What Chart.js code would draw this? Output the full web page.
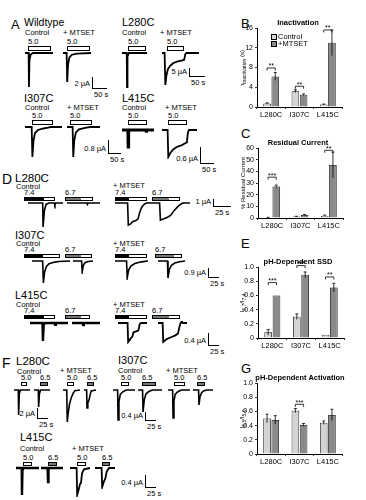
<!DOCTYPE html>
<html>
<head>
<meta charset="utf-8">
<script src="https://cdn.jsdelivr.net/npm/chart.js@4.4.1/dist/chart.umd.min.js"></script>
<style>
  html, body { margin: 0; padding: 0; background: #fff; }
  #fig { position: relative; width: 366px; height: 500px; overflow: hidden; background: #fff; }
  #fig canvas { position: absolute; }
  .t { position: absolute; line-height: 1; white-space: nowrap; color: #000;
       font-family: 'Liberation Sans', Arial, sans-serif; }
  .stim { position: absolute; box-sizing: border-box; border: 1px solid #000; background: #fff; }
  .stim div { position: absolute; left: 0; top: 0; bottom: 0; }
  .sb { position: absolute; border-left: 1.5px solid #000; border-bottom: 1.5px solid #000; }
  .key { position: absolute; width: 4px; height: 4px; border: 1px solid #000; }
</style>
</head>
<body>
<div id="fig"></div>
<script>
// ---- bar chart data (B, C, E, G) ----
const categories = ['L280C', 'I307C', 'L415C'];

const inactTicks = [0, 4, 8, 12, 16];
const inactControl = [0.7, 3.2, 0.5];
const inactMtset = [6.2, 2.5, 13.0];
const inactControlErr = [0.15, 0.3, 0.1];
const inactMtsetErr = [0.8, 0.15, 2.6];
const inactSig = [[0, 7.9, '**'], [1, 4.2, '**'], [2, 15.6, '**']];

const residTicks = [0, 10, 20, 30, 40, 50, 60];
const residControl = [0.4, 1.2, 2.0];
const residMtset = [27.0, 2.6, 45.5];
const residControlErr = [0.2, 0.3, 0.5];
const residMtsetErr = [1.2, 0.4, 11];
const residSig = [[0, 35, '***'], [2, 58, '**']];

const ssdTicks = [0, 0.2, 0.4, 0.6, 0.8, 1.0];
const ssdControl = [0.08, 0.30, 0.045];
const ssdMtset = [0.60, 0.89, 0.71];
const ssdControlErr = [0.04, 0.04, 0];
const ssdMtsetErr = [0, 0.04, 0.06];
const ssdSig = [[0, 0.78, '***'], [1, 1.02, '***'], [2, 0.86, '**']];

const actTicks = [0, 0.2, 0.4, 0.6, 0.8, 1.0];
const actControl = [0.50, 0.61, 0.44];
const actMtset = [0.48, 0.41, 0.55];
const actControlErr = [0.06, 0.03, 0.025];
const actMtsetErr = [0.06, 0.02, 0.08];
const actSig = [[1, 0.70, '***']];

// ---- current traces: [time fraction, normalised current] ----
const wtControl = [[0,0],[.13,0],[.14,-1],[.16,-.2],[.2,-.05],[.28,0],[1,0]];
const wtMtset = [[0,0],[.13,0],[.15,-1],[.18,-.4],[.23,-.15],[.32,-.06],[.5,-.02],[1,0]];
const l280Control = [[0,0],[.19,0],[.2,-1],[.22,-.1],[.28,0],[1,0]];
const l280Mtset = [[0,0],[.07,0],[.09,-1],[.12,-.7],[.16,-.5],[.22,-.4],[.3,-.32],[.4,-.27],[.55,-.23],[.6,-.21],[.63,-.04],[.66,0],[1,0]];
const i307Control = [[0,0],[.18,0],[.2,-1],[.23,-.45],[.27,-.2],[.35,-.1],[.5,-.05],[.62,-.02],[.7,0],[1,0]];
const i307Mtset = [[0,0],[.17,0],[.19,-1],[.22,-.45],[.27,-.18],[.36,-.08],[.55,-.03],[.7,0],[1,0]];
const l415Control = [[0,0],[.18,0],[.19,-1],[.21,-.1],[.25,0],[.73,0],[.75,-.08],[.77,0],[1,0]];
const l415Mtset = [[0,0],[.16,0],[.18,-1],[.24,-.85],[.32,-.72],[.42,-.63],[.57,-.56],[.65,-.5],[.71,-.46],[.74,-.1],[.77,0],[1,0]];

const d280c74 = [[0,0],[.42,0],[.43,-1],[.47,-.3],[.52,-.05],[.6,0],[.75,0],[.77,-.08],[.79,0],[1,0]];
const d280c67 = [[0,0],[.6,0],[.62,-.06],[.64,0],[1,0]];
const d280m74 = [[0,0],[.36,0],[.38,-1],[.45,-.95],[.5,-.85],[.6,-.8],[.66,-.72],[.7,-.45],[.76,-.2],[.84,-.05],[.9,0],[1,0]];
const d280m67 = [[0,0],[.24,0],[.26,-1],[.35,-.92],[.45,-.82],[.52,-.72],[.6,-.45],[.7,-.2],[.8,-.02],[.85,0],[1,0]];
const d307c74 = [[0,0],[.28,0],[.3,-1],[.33,-.5],[.38,-.25],[.45,-.12],[.6,-.05],[.7,-.02],[1,0]];
const d307c67 = [[0,0],[.43,0],[.46,-1],[.52,-.4],[.6,-.15],[.75,-.05],[1,0]];
const d307m74 = [[0,0],[.35,0],[.37,-1],[.41,-.55],[.48,-.3],[.6,-.15],[.8,-.05],[1,0]];
const d307m67 = [[0,0],[.35,0],[.37,-1],[.42,-.5],[.5,-.25],[.62,-.12],[.8,-.04],[1,0]];
const d415c74 = [[0,0],[.33,0],[.34,-1],[.36,-.1],[.4,0],[.64,0],[.66,-.1],[.68,0],[1,0]];
const d415c67 = [[0,0],[.38,0],[.4,-.12],[.42,0],[1,0]];
const d415m74 = [[0,0],[.33,0],[.35,-1],[.42,-.85],[.5,-.7],[.53,-.5],[.6,-.45],[.7,-.4],[.75,-.05],[.8,0],[1,0]];
const d415m67 = [[0,0],[.16,0],[.18,-1],[.3,-.85],[.45,-.75],[.6,-.65],[.69,-.55],[.74,-.2],[.78,0],[.82,.08],[.85,0],[1,0]];

const f280c50 = [[0,0],[.27,0],[.29,-1],[.33,-.15],[.4,0],[1,0]];
const f280c65 = [[0,0],[.27,0],[.29,-1],[.34,-.2],[.42,0],[1,0]];
const f280m50 = [[0,0],[.22,0],[.25,-1],[.3,-.75],[.38,-.45],[.48,-.25],[.6,-.1],[.7,-.02],[1,0]];
const f280m65 = [[0,0],[.22,0],[.25,-1],[.32,-.7],[.42,-.55],[.5,-.3],[.6,-.05],[1,0]];
const f307c50 = [[0,0],[.21,0],[.23,-1],[.27,-.4],[.33,-.15],[.45,-.06],[.6,0],[1,0]];
const f307c65 = [[0,0],[.19,0],[.21,-1],[.26,-.45],[.33,-.18],[.45,-.07],[.6,0],[1,0]];
const f307m50 = [[0,0],[.21,0],[.23,-1],[.27,-.4],[.33,-.15],[.45,-.06],[.6,0],[1,0]];
const f307m65 = [[0,0],[.28,0],[.3,-1],[.35,-.45],[.43,-.18],[.55,-.05],[.7,0],[1,0]];
const f415c50 = [[0,0],[.25,0],[.26,-1],[.28,-.1],[.32,0],[1,0]];
const f415c65 = [[0,0],[.3,0],[.32,-1],[.34,-.1],[.38,0],[1,0]];
const f415m50 = [[0,0],[.33,0],[.36,-1],[.45,-.75],[.5,-.6],[.55,-.55],[.6,-.2],[.7,-.05],[1,0]];
const f415m65 = [[0,0],[.33,0],[.36,-1],[.45,-.7],[.52,-.55],[.58,-.2],[.7,0],[1,0]];

// ---- layout ----
const fig = document.getElementById('fig');
const FONT = "'Liberation Sans', Arial, sans-serif";
const CTRL = '#d4d4d4', MT = '#8a8a8a';

function label(str, x, y, size, opt) {
  opt = opt || {};
  const d = document.createElement('div');
  d.className = 't';
  d.innerHTML = str;
  d.style.left = x + 'px';
  d.style.top = y + 'px';
  d.style.fontSize = size + 'px';
  if (opt.bold) d.style.fontWeight = 'bold';
  if (opt.align === 'right') d.style.transform = 'translateX(-100%)';
  if (opt.align === 'center') d.style.transform = 'translateX(-50%)';
  if (opt.rot) d.style.transform = 'translate(-50%,-50%) rotate(-90deg)';
  fig.appendChild(d);
}

// [text, x, y, size]
const headings = [
  ['A', 11, 18, 13], ['Wildtype', 24, 17, 10.5], ['Control', 25, 29, 7.5], ['+ MTSET', 63, 29, 7.5],
  ['L280C', 122, 17, 11], ['Control', 122, 29, 7.5], ['+ MTSET', 160, 29, 7.5],
  ['I307C', 24, 93, 11], ['Control', 25, 104, 7.5], ['+ MTSET', 67, 104, 7.5],
  ['L415C', 122, 93, 11], ['Control', 122, 104, 7.5], ['+ MTSET', 165, 104, 7.5],
  ['D', 2, 172, 14], ['L280C', 15, 173, 11.5], ['Control', 16, 183, 7.5], ['+ MTSET', 113, 182, 7.5],
  ['I307C', 15, 230, 11], ['Control', 16, 240, 7.5], ['+ MTSET', 113, 240, 7.5],
  ['L415C', 15, 290, 11], ['Control', 16, 301, 7.5], ['+ MTSET', 113, 301, 7.5],
  ['F', 2, 356, 14], ['L280C', 16, 356, 11.5], ['Control', 17, 368, 7.5], ['+ MTSET', 60, 367, 7.5],
  ['I307C', 118, 355, 11], ['Control', 118, 367, 7.5], ['+ MTSET', 166, 367, 7.5],
  ['L415C', 20, 432, 11], ['Control', 20, 445, 7.5], ['+ MTSET', 72, 445, 7.5],
  ['B', 241, 17, 13], ['C', 241, 127, 13], ['E', 241, 237, 13], ['G', 241, 362, 13]
];
headings.forEach(h => label(h[0], h[1], h[2], h[3]));

// stimulus bars: [label, x1, x2, y, h, fill, splitX]
const stims = [
  ['5.0', 28, 51, 46, 5, '#fff'], ['5.0', 67, 90, 46, 5, '#fff'], ['5.0', 128, 146, 46, 5, '#fff'], ['5.0', 167, 184, 46, 5, '#fff'],
  ['5.0', 32, 53, 120, 5, '#fff'], ['5.0', 70, 92, 120, 5, '#fff'], ['5.0', 128, 147, 120, 5, '#fff'], ['5.0', 168, 187, 120, 5, '#fff'],
  ['7.4', 24, 55, 197, 4, '#000', 43], ['6.7', 65, 93, 197, 4, '#777', 80], ['7.4', 115, 147, 197, 4, '#000', 128], ['6.7', 152, 180, 197, 4, '#777', 168],
  ['7.4', 24, 60, 254, 4, '#000', 42], ['6.7', 65, 92, 254, 4, '#777', 80], ['7.4', 115, 147, 254, 4, '#000', 128], ['6.7', 155, 182, 254, 4, '#777', 173],
  ['7.4', 24, 55, 315, 4, '#000', 43], ['6.7', 65, 90, 315, 4, '#777', 80], ['7.4', 115, 147, 315, 4, '#000', 128], ['6.7', 152, 180, 315, 4, '#777', 168],
  ['5.0', 21, 27, 382, 4, '#fff'], ['6.5', 40, 48, 382, 4, '#777'], ['5.0', 67, 74, 382, 4, '#fff'], ['6.5', 87, 94, 382, 4, '#777'],
  ['5.0', 121, 129, 382, 4, '#fff'], ['6.5', 142, 156, 382, 4, '#777'], ['5.0', 174, 185, 382, 4, '#fff'], ['6.5', 197, 205, 382, 4, '#777'],
  ['5.0', 23, 32, 462, 4, '#fff'], ['6.5', 48, 57, 462, 4, '#777'], ['5.0', 77, 86, 462, 4, '#fff'], ['6.5', 102, 110, 462, 4, '#777']
];
stims.forEach(s => {
  const [txt, x1, x2, y, h, fill, split] = s;
  label(txt, x1, y - 8, 7.5);
  const d = document.createElement('div');
  d.className = 'stim';
  d.style.left = x1 + 'px'; d.style.top = y + 'px';
  d.style.width = (x2 - x1) + 'px'; d.style.height = h + 'px';
  if (split) {
    const f = document.createElement('div');
    f.style.width = (split - x1) + 'px';
    f.style.background = fill;
    d.appendChild(f);
  } else {
    d.style.background = fill;
  }
  fig.appendChild(d);
});

// scale bars: [x, yTop, vLen, hLen, amp, time]
const scaleBars = [
  [92, 77, 11, 14, '2 µA', '50 s'], [189, 68, 8, 15, '5 µA', '50 s'],
  [108, 140, 13, 12, '0.8 µA', '50 s'], [200, 147, 16, 13, '0.6 µA', '50 s'],
  [213, 199, 7, 17, '1 µA', '25 s'], [208, 268, 9, 10, '0.9 µA', '25 s'], [208, 333, 12, 10, '0.4 µA', '25 s'],
  [37, 408, 10, 10, '2 µA', '25 s'], [145, 412, 8, 10, '0.4 µA', '25 s'], [145, 475, 12, 10, '0.4 µA', '25 s']
];
scaleBars.forEach(b => {
  const [x, y, v, h, amp, tm] = b;
  const d = document.createElement('div');
  d.className = 'sb';
  d.style.left = x + 'px'; d.style.top = y + 'px';
  d.style.width = h + 'px'; d.style.height = v + 'px';
  fig.appendChild(d);
  label(amp, x - 2, y + v - 8, 7.5, { align: 'right' });
  label(tm, x + 2, y + v + 3, 7.5);
});

// traces: [points, x, width, baselineY, depth, lineWidth]
const traces = [
  [wtControl, 25, 28, 53, 34, 1.8], [wtMtset, 63, 28, 53, 29, 1.8],
  [l280Control, 122, 25, 53, 34, 1.8], [l280Mtset, 162, 37, 53, 32, 1.8],
  [i307Control, 25, 37, 127, 30, 1.8], [i307Mtset, 67, 33, 127, 30, 1.8],
  [l415Control, 122, 32, 130, 17, 2.8], [l415Mtset, 162, 35, 130, 27, 1.8],
  [d280c74, 28, 35, 203, 24, 1.6], [d280c67, 67, 33, 203, 24, 1.6],
  [d280m74, 115, 35, 203, 22, 1.6], [d280m67, 150, 40, 203, 17, 1.6],
  [d307c74, 32, 38, 261, 22, 1.6], [d307c67, 73, 20, 261, 11, 1.6],
  [d307m74, 115, 33, 261, 17, 1.6], [d307m67, 158, 27, 261, 17, 1.6],
  [d415c74, 30, 38, 323, 18, 2.4], [d415c67, 72, 28, 323, 18, 2.4],
  [d415m74, 118, 29, 323, 19, 1.8], [d415m67, 158, 29, 323, 19, 1.8],
  [f280c50, 14, 16, 390, 25, 1.6], [f280c65, 34, 16, 390, 17, 1.6],
  [f280m50, 63, 17, 390, 32, 1.6], [f280m65, 84, 12, 390, 18, 1.6],
  [f307c50, 113, 22, 390, 30, 1.6], [f307c65, 138, 24, 390, 22, 1.6],
  [f307m50, 168, 22, 390, 28, 1.6], [f307m65, 193, 20, 390, 15, 1.6],
  [f415c50, 16, 23, 468, 27, 2.4], [f415c65, 41, 22, 468, 14, 2.4],
  [f415m50, 70, 20, 468, 27, 1.8], [f415m65, 95, 20, 468, 19, 1.8]
];
traces.forEach(tr => {
  const [pts, x, w, base, depth, lw] = tr;
  const pad = 2;
  const c = document.createElement('canvas');
  c.width = w + pad * 2; c.height = depth + pad * 2;
  c.style.left = (x - pad) + 'px'; c.style.top = (base - pad) + 'px';
  fig.appendChild(c);
  new Chart(c, {
    type: 'scatter',
    data: { datasets: [{
      data: pts.map(p => ({ x: p[0], y: p[1] })),
      showLine: true, borderColor: '#000', borderWidth: lw,
      pointRadius: 0, tension: 0, clip: false
    }] },
    options: {
      animation: false, responsive: false, events: [],
      layout: { padding: pad },
      plugins: { legend: { display: false }, tooltip: { enabled: false } },
      scales: { x: { display: false, min: 0, max: 1 }, y: { display: false, min: -1, max: 0 } }
    }
  });
});

// ---- bar panels ----
function markPlugin(ctrlErr, mtErr, sig) {
  return {
    id: 'marks',
    afterDatasetsDraw(chart) {
      const ctx = chart.ctx, y = chart.scales.y;
      const errs = [ctrlErr, mtErr];
      ctx.save();
      ctx.strokeStyle = '#000';
      ctx.lineWidth = 0.8;
      [0, 1].forEach(di => {
        chart.getDatasetMeta(di).data.forEach((bar, i) => {
          const e = errs[di][i];
          if (!e) return;
          const v = chart.data.datasets[di].data[i];
          const top = y.getPixelForValue(v + e), bot = y.getPixelForValue(v - e);
          ctx.beginPath();
          ctx.moveTo(bar.x, top); ctx.lineTo(bar.x, bot);
          ctx.moveTo(bar.x - 1.5, top); ctx.lineTo(bar.x + 1.5, top);
          ctx.stroke();
        });
      });
      ctx.fillStyle = '#000';
      ctx.font = '7px ' + FONT;
      ctx.textAlign = 'center';
      ctx.textBaseline = 'bottom';
      sig.forEach(s => {
        const [cat, level, stars] = s;
        const x1 = chart.getDatasetMeta(0).data[cat].x, x2 = chart.getDatasetMeta(1).data[cat].x;
        const yy = y.getPixelForValue(level);
        ctx.beginPath();
        ctx.moveTo(x1, yy + 2.5); ctx.lineTo(x1, yy); ctx.lineTo(x2, yy); ctx.lineTo(x2, yy + 2.5);
        ctx.stroke();
        ctx.fillText(stars, (x1 + x2) / 2, yy + 2);
      });
      ctx.restore();
    }
  };
}

function barPanel(p) {
  const yW = 22, xH = 12, padTop = 8, padRight = 4;
  const c = document.createElement('canvas');
  const left = p.plotLeft - yW, top = p.plotTop - padTop;
  c.width = p.plotRight + padRight - left;
  c.height = p.plotBottom + xH - top;
  c.style.left = left + 'px'; c.style.top = top + 'px';
  fig.appendChild(c);
  new Chart(c, {
    type: 'bar',
    data: {
      labels: categories,
      datasets: [
        { data: p.control, backgroundColor: CTRL, borderColor: '#000', borderWidth: 0.8,
          categoryPercentage: 0.58, barPercentage: 0.92 },
        { data: p.mtset, backgroundColor: MT, borderColor: '#000', borderWidth: 0.8,
          categoryPercentage: 0.58, barPercentage: 0.92 }
      ]
    },
    options: {
      animation: false, responsive: false, events: [],
      layout: { padding: { top: padTop, right: padRight, left: 0, bottom: 0 } },
      plugins: { legend: { display: false }, tooltip: { enabled: false } },
      scales: {
        y: {
          min: 0, max: p.ticks[p.ticks.length - 1],
          afterBuildTicks: s => { s.ticks = p.ticks.map(v => ({ value: v })); },
          afterFit: s => { s.width = yW; },
          ticks: { color: '#000', font: { size: 7, family: FONT }, padding: 2,
                   callback: v => p.decimals && v !== 0 ? v.toFixed(1) : String(v) },
          grid: { display: true, drawOnChartArea: false, tickLength: 2, color: '#000', lineWidth: 0.8 },
          border: { color: '#000', width: 1 }
        },
        x: {
          afterFit: s => { s.height = xH; },
          ticks: { color: '#000', font: { size: 7.5, family: FONT }, padding: 1, maxRotation: 0 },
          grid: { display: true, drawOnChartArea: false, tickLength: 2, color: '#000', lineWidth: 0.8 },
          border: { color: '#000', width: 1 }
        }
      }
    },
    plugins: [markPlugin(p.controlErr, p.mtsetErr, p.sig)]
  });
  label(p.title, p.titleX, p.plotTop - 9, 7.5, { bold: true, align: 'center' });
  label(p.yTitle, 243, (p.plotTop + p.plotBottom) / 2, 6, { rot: true });
}

barPanel({ plotLeft: 257, plotRight: 342, plotTop: 28, plotBottom: 107, ticks: inactTicks,
  control: inactControl, mtset: inactMtset, controlErr: inactControlErr, mtsetErr: inactMtsetErr, sig: inactSig,
  title: 'Inactivation', titleX: 298, yTitle: 'τ<sub>inactivation</sub> (s)' });
barPanel({ plotLeft: 258, plotRight: 343, plotTop: 148, plotBottom: 218, ticks: residTicks,
  control: residControl, mtset: residMtset, controlErr: residControlErr, mtsetErr: residMtsetErr, sig: residSig,
  title: 'Residual Current', titleX: 298, yTitle: '% Residual Current' });
barPanel({ plotLeft: 258, plotRight: 344, plotTop: 267, plotBottom: 338, ticks: ssdTicks, decimals: true,
  control: ssdControl, mtset: ssdMtset, controlErr: ssdControlErr, mtsetErr: ssdMtsetErr, sig: ssdSig,
  title: 'pH-Dependent SSD', titleX: 298, yTitle: 'I<sub>6.7</sub>/I<sub>7.4</sub>' });
barPanel({ plotLeft: 257, plotRight: 342, plotTop: 383, plotBottom: 454, ticks: actTicks, decimals: true,
  control: actControl, mtset: actMtset, controlErr: actControlErr, mtsetErr: actMtsetErr, sig: actSig,
  title: 'pH-Dependent Activation', titleX: 300, yTitle: 'I<sub>6.5</sub>/I<sub>5.0</sub>' });

// legend of panel B
[['Control', CTRL, 34], ['+MTSET', MT, 41]].forEach(k => {
  const b = document.createElement('div');
  b.className = 'key';
  b.style.left = '271px'; b.style.top = k[2] + 'px'; b.style.background = k[1];
  fig.appendChild(b);
  label(k[0], 278, k[2] - 1, 7.5);
});
</script>
</body>
</html>
